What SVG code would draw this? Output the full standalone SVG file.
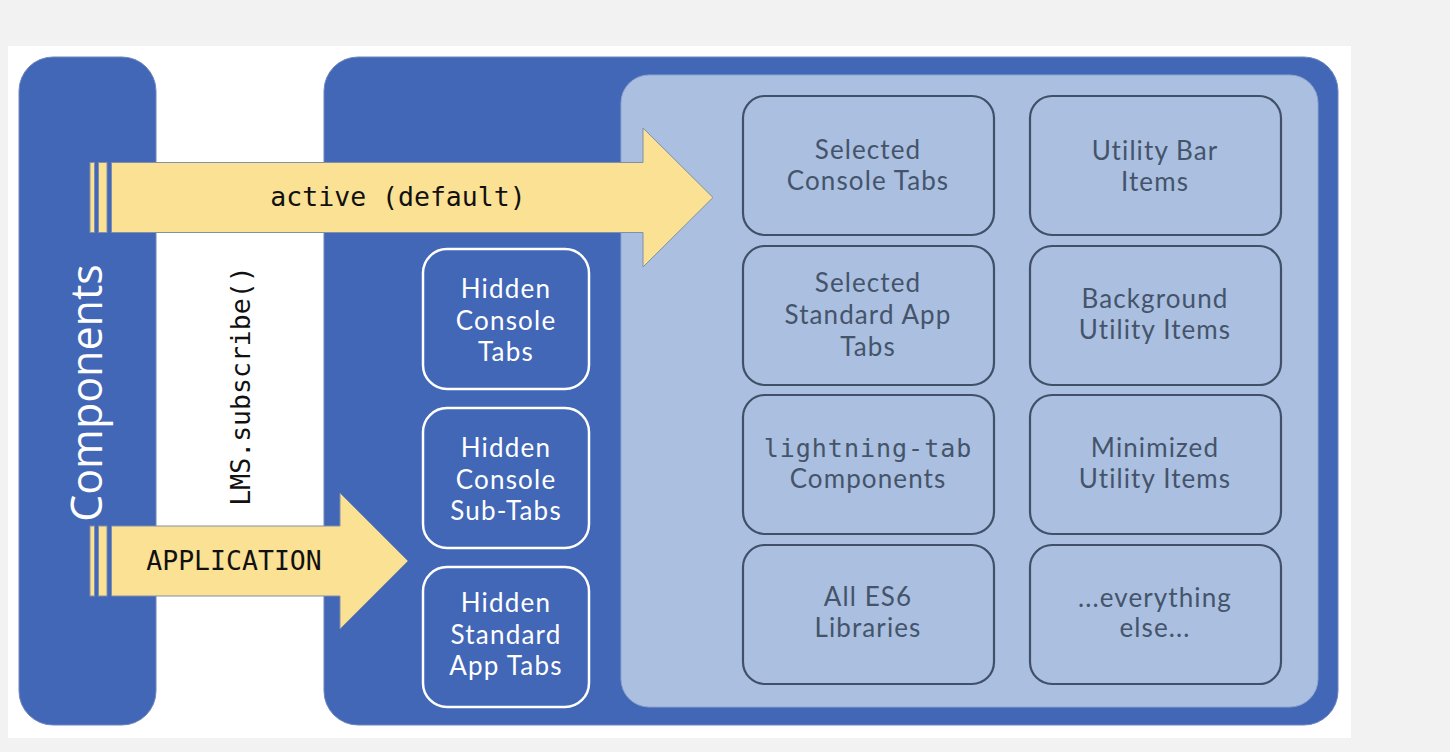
<svg xmlns="http://www.w3.org/2000/svg" width="1450" height="752" viewBox="0 0 1450 752">
<style>
.blue{fill:#4267b7;stroke:#6f86bd;stroke-width:1}
.inner{fill:#abbfe0;stroke:#8ea3cf;stroke-width:1}
.gbox{fill:#abbfe0;stroke:#3f5068;stroke-width:2.2}
.hbox{fill:#4267b7;stroke:#ffffff;stroke-width:2.5}
.gt{font-family:Lato,"Open Sans",sans-serif;font-size:26px;letter-spacing:1.1px;fill:#44546a;text-anchor:middle}
.gm{font-family:"DejaVu Sans Mono","Liberation Mono",monospace;font-size:25px;letter-spacing:1px;fill:#44546a;text-anchor:middle}
.ht{font-family:Lato,"Open Sans",sans-serif;font-size:26px;letter-spacing:1.2px;fill:#ffffff;text-anchor:middle}
.arrow{fill:#fbe194;stroke:#8090a8;stroke-width:1}
.mono{font-family:"DejaVu Sans Mono","Liberation Mono",monospace;font-size:26.5px;fill:#111111;text-anchor:middle}
</style>
<rect x="0" y="0" width="1450" height="752" fill="#f2f2f2"/>
<rect x="8" y="46" width="1343" height="692" fill="#ffffff"/>

<g id="components-panel">
<rect class="blue" x="19" y="57" width="137" height="668" rx="34"/>
<text x="85" y="393" transform="rotate(-90 85 393)" font-family="Open Sans, Noto Sans, sans-serif" font-size="43" fill="#ffffff" text-anchor="middle" dominant-baseline="central">Components</text>
</g>

<g id="lms-label">
<text x="240" y="386" transform="rotate(-90 240 386)" class="mono" dominant-baseline="central">LMS.subscribe()</text>
</g>

<g id="main-panel">
<rect class="blue" x="324" y="57" width="1014" height="668" rx="34"/>
<rect class="inner" x="621" y="75" width="697" height="632" rx="28"/>
</g>

<g id="hidden-console-tabs">
<rect class="hbox" x="423" y="249" width="166" height="140" rx="24"/>
<text class="ht" x="506" y="298">Hidden</text>
<text class="ht" x="506" y="330">Console</text>
<text class="ht" x="506" y="361">Tabs</text>
</g>
<g id="hidden-console-subtabs">
<rect class="hbox" x="423" y="408" width="166" height="140" rx="24"/>
<text class="ht" x="506" y="457">Hidden</text>
<text class="ht" x="506" y="489">Console</text>
<text class="ht" x="506" y="520">Sub-Tabs</text>
</g>
<g id="hidden-standard-app-tabs">
<rect class="hbox" x="423" y="567" width="166" height="140" rx="24"/>
<text class="ht" x="506" y="612">Hidden</text>
<text class="ht" x="506" y="644">Standard</text>
<text class="ht" x="506" y="675">App Tabs</text>
</g>

<g id="selected-console-tabs">
<rect class="gbox" x="743" y="96" width="251" height="139" rx="22"/>
<text class="gt" x="868" y="159">Selected</text>
<text class="gt" x="868" y="190">Console Tabs</text>
</g>
<g id="selected-standard-app-tabs">
<rect class="gbox" x="743" y="246" width="251" height="139" rx="22"/>
<text class="gt" x="868" y="292">Selected</text>
<text class="gt" x="868" y="324">Standard App</text>
<text class="gt" x="868" y="356">Tabs</text>
</g>
<g id="lightning-tab-components">
<rect class="gbox" x="743" y="395" width="251" height="139" rx="22"/>
<text class="gm" x="868" y="457">lightning-tab</text>
<text class="gt" x="868" y="488">Components</text>
</g>
<g id="all-es6-libraries">
<rect class="gbox" x="743" y="545" width="251" height="139" rx="22"/>
<text class="gt" x="868" y="606">All ES6</text>
<text class="gt" x="868" y="637">Libraries</text>
</g>
<g id="utility-bar-items">
<rect class="gbox" x="1030" y="96" width="251" height="139" rx="22"/>
<text class="gt" x="1155" y="160">Utility Bar</text>
<text class="gt" x="1155" y="191">Items</text>
</g>
<g id="background-utility-items">
<rect class="gbox" x="1030" y="246" width="251" height="139" rx="22"/>
<text class="gt" x="1155" y="308">Background</text>
<text class="gt" x="1155" y="339">Utility Items</text>
</g>
<g id="minimized-utility-items">
<rect class="gbox" x="1030" y="395" width="251" height="139" rx="22"/>
<text class="gt" x="1155" y="457">Minimized</text>
<text class="gt" x="1155" y="488">Utility Items</text>
</g>
<g id="everything-else">
<rect class="gbox" x="1030" y="545" width="251" height="139" rx="22"/>
<text class="gt" x="1155" y="607">...everything</text>
<text class="gt" x="1155" y="637">else...</text>
</g>

<g id="connectors">
<g id="active-arrow">
<rect class="arrow" x="90" y="162.5" width="4.5" height="70"/>
<rect class="arrow" x="98.5" y="162.5" width="8.5" height="70"/>
<polygon class="arrow" points="111.5,162.5 643,162.5 643,128 713,197.5 643,267 643,232.5 111.5,232.5"/>
<text class="mono" x="398" y="206">active (default)</text>
</g>
<g id="application-arrow">
<rect class="arrow" x="90" y="526" width="4.5" height="70"/>
<rect class="arrow" x="98.5" y="526" width="8.5" height="70"/>
<polygon class="arrow" points="111.5,526 340,526 340,493 408,561 340,629 340,596 111.5,596"/>
<text class="mono" x="234" y="570">APPLICATION</text>
</g>
</g>
</svg>
